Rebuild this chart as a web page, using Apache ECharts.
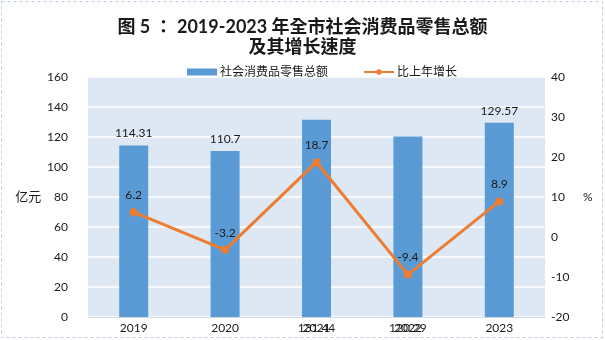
<!DOCTYPE html>
<html>
<head>
<meta charset="utf-8">
<script src="https://cdn.jsdelivr.net/npm/echarts@6/dist/echarts.min.js"></script>
<style>
  html, body { margin: 0; padding: 0; background: #fff; }
  #chart { width: 605px; height: 340px; }
</style>
</head>
<body>
<div id="chart"></div>
<script>
// Retail sales of consumer goods, 2019-2023, with year-on-year growth
const years = ['2019', '2020', '2021', '2022', '2023'];
const retailTotal = [114.31, 110.7, 131.44, 120.29, 129.57];   // 亿元
const growthRate = [6.2, -3.2, 18.7, -9.4, 8.9];               // %
const leftTicks = { min: 0, max: 160, interval: 20 };
const rightTicks = { min: -20, max: 40, interval: 10 };

// Two of the bar labels sit down on the category axis
const lowLabelYears = ['2021', '2022'];

const font = 'Lato, "Noto Sans CJK SC", sans-serif';
// centred full-width colon in the heading
const titleFont = 'Lato, "Noto Sans CJK TC", sans-serif';
const chart = echarts.init(document.getElementById('chart'), null, { renderer: 'canvas' });

chart.setOption({
  animation: false,
  backgroundColor: '#ffffff',
  textStyle: { fontFamily: font },
  title: {
    text: '图 5 ： 2019-2023 年全市社会消费品零售总额\n及其增长速度',
    left: 'center',
    top: 12,
    textStyle: { fontSize: 18, fontWeight: 'bold', color: '#1a1a1a', lineHeight: 20, fontFamily: titleFont }
  },
  legend: {
    top: 61,
    left: 182,
    itemGap: 35,
    itemWidth: 30,
    itemHeight: 7,
    textStyle: { fontSize: 12, color: '#1a1a1a', fontFamily: font, padding: [0, 0, 0, -2] },
    data: [
      { name: '社会消费品零售总额', icon: 'rect' },
      { name: '比上年增长' }
    ]
  },
  grid: { left: 88, right: 60, top: 77, bottom: 23, show: true, backgroundColor: '#dde8f4', borderWidth: 0 },
  xAxis: {
    type: 'category',
    data: years,
    axisLine: { show: true, lineStyle: { color: '#d0d8e2' } },
    axisTick: { show: false },
    axisLabel: { color: '#1a1a1a', fontSize: 12, margin: 5 }
  },
  yAxis: [
    {
      type: 'value', min: leftTicks.min, max: leftTicks.max, interval: leftTicks.interval,
      name: '亿元', nameLocation: 'middle', nameGap: 42, nameRotate: 0,
      nameTextStyle: { color: '#1a1a1a', fontSize: 13 },
      axisLine: { show: false }, axisTick: { show: false },
      axisLabel: { color: '#1a1a1a', fontSize: 12, margin: 20 },
      splitLine: { show: true, lineStyle: { color: '#ffffff', width: 1.5 } }
    },
    {
      type: 'value', min: rightTicks.min, max: rightTicks.max, interval: rightTicks.interval,
      name: '%', nameLocation: 'middle', nameGap: 38, nameRotate: 0,
      nameTextStyle: { color: '#1a1a1a', fontSize: 12 },
      axisLine: { show: false }, axisTick: { show: false },
      axisLabel: { color: '#1a1a1a', fontSize: 12, margin: 6 },
      splitLine: { show: false }
    }
  ],
  series: [
    {
      name: '社会消费品零售总额',
      type: 'bar',
      yAxisIndex: 0,
      barWidth: 29,
      itemStyle: { color: '#5b9bd5' },
      data: retailTotal.map((v, i) => ({
        value: v,
        label: lowLabelYears.includes(years[i])
          ? { show: true, position: 'bottom', distance: 5 }
          : { show: true, position: 'top', distance: 6 }
      })),
      label: { color: '#1a1a1a', fontSize: 12 }
    },
    {
      name: '比上年增长',
      type: 'line',
      yAxisIndex: 1,
      data: growthRate,
      symbol: 'circle',
      symbolSize: 8,
      lineStyle: { color: '#ed7d31', width: 3 },
      itemStyle: { color: '#ed7d31' },
      label: { show: true, position: 'top', distance: 7, color: '#1a1a1a', fontSize: 12 },
      z: 5
    }
  ],
  graphic: [
    {
      type: 'rect',
      shape: { x: 1.5, y: 1.5, width: 601, height: 336 },
      style: { fill: 'none', stroke: '#b8cce4', lineWidth: 1, lineDash: [3, 3] },
      silent: true
    }
  ]
});
</script>
</body>
</html>
